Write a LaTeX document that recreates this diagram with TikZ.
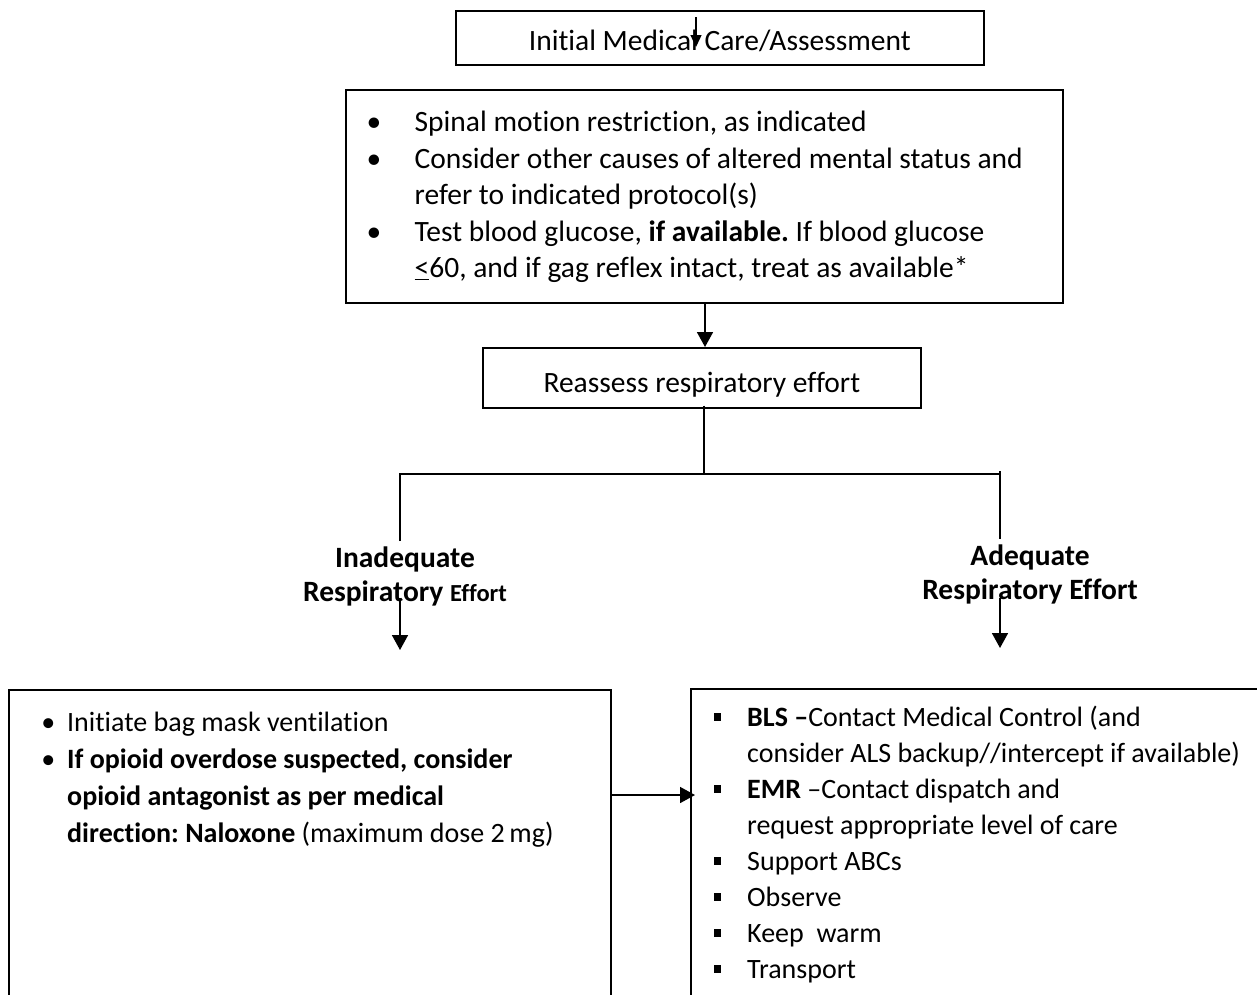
\documentclass[tikz,border=0pt]{standalone}
\usepackage{fontspec}
\setmainfont{Carlito}[Ligatures={NoCommon}]
\usetikzlibrary{arrows.meta}
\newcommand{\bl}[1]{\makebox[#1][l]{\textbullet}}
\newcommand{\sq}[1]{\makebox[#1][l]{\rule[6pt]{7.5pt}{7.5pt}}}
\newcommand{\natsp}{\spaceskip=0pt\relax\xspaceskip=0pt\relax\frenchspacing\hyphenpenalty=10000\relax}
\begin{document}
\begin{tikzpicture}[x=1pt,y=-1pt,
  box/.style={draw, line width=1.6pt, inner sep=0pt, anchor=north west},
  conn/.style={line width=1.7pt},
  arr/.style={line width=1.7pt, -{Triangle[width=16pt,length=15pt]}},
  smallarr/.style={line width=1.3pt, -{Triangle[width=11pt,length=12pt]}},
  txt/.style={inner sep=0pt, anchor=north west, align=left, font=\fontsize{29.5}{36.5}\selectfont},
  lab/.style={align=center, inner sep=5pt, font=\fontsize{29.5}{34}\selectfont\bfseries}]
\path[use as bounding box] (0,0) rectangle (1257,994);
\clip (0,0) rectangle (1257,994);

% boxes
\node[box, minimum width=528pt, minimum height=54pt, text height=25pt, text depth=0pt, font=\fontsize{29.5}{34}\selectfont] (b1) at (455,10) {Initial Medical Care/Assessment};
\node[box, minimum width=717pt, minimum height=213pt] (b2) at (345,89) {};
\node[box, minimum width=438pt, minimum height=60pt, text height=29pt, text depth=0pt, font=\fontsize{29.5}{34}\selectfont] (b3) at (482,347) {Reassess respiratory effort};
\node[box, minimum width=602pt, minimum height=400pt] (b4) at (8,689) {};
\node[box, minimum width=620pt, minimum height=400pt] (b5) at (690,688) {};

% box texts
\node[txt, text width=700pt] (t2) at (366.3,106.2) {\natsp\strut\bl{48.2pt}Spinal motion restriction, as indicated\\
\bl{48.2pt}Consider other causes of altered mental status and\\
\hspace*{48.2pt}refer to indicated protocol(s)\\
\bl{48.2pt}Test blood glucose, \textbf{if available.} If blood glucose\\
\hspace*{48.2pt}\underline{<}60, and if gag reflex intact, treat as available*};

\node[txt, text width=590pt, font=\fontsize{28}{37}\selectfont] (t4) at (41.1,705) {\natsp\strut\bl{25.9pt}Initiate bag mask ventilation\\
\bl{25.9pt}\textbf{If opioid overdose suspected, consider}\\
\hspace*{25.9pt}\textbf{opioid antagonist as per medical}\\
\hspace*{25.9pt}\textbf{direction: Naloxone} (maximum dose 2\,mg)};

\node[txt, text width=620pt, font=\fontsize{28}{36}\selectfont] (t5) at (713.5,701.5) {\natsp\strut\sq{33.5pt}\textbf{BLS --}Contact Medical Control (and\\
\hspace*{33.5pt}consider ALS backup//intercept if available)\\
\sq{33.5pt}\textbf{EMR} --Contact dispatch and\\
\hspace*{33.5pt}request appropriate level of care\\
\sq{33.5pt}Support ABCs\\
\sq{33.5pt}Observe\\
\sq{33.5pt}Keep\ \ warm\\
\sq{33.5pt}Transport};

% labels
\node[lab] (l1) at (405,576) {Inadequate\\Respiratory {\fontsize{24.5}{34}\selectfont Effort}};
\node[lab] (l2) at (1030,574) {Adequate\\Respiratory Effort};

% connectors
\coordinate (a0s) at (696,17);
\coordinate (a0e) at (696,47);
\draw[smallarr] (a0s) -- (a0e);

\draw[arr] (b2.south -| 705,0) -- (b3.north -| 705,0);

\coordinate (j) at (704,474);
\coordinate (jl) at (400,474);
\coordinate (jr) at (1000,474);
\draw[conn] ([yshift=3pt]b3.south -| j) -- (j);
\draw[conn] (jl |- l1.north) -- (jl) -- (jr) -- (jr |- l2.north);
\draw[conn] (1000,471) -- (jr);

\coordinate (s1) at (400,598);
\coordinate (e1) at (400,650);
\coordinate (s2) at (1000,598);
\coordinate (e2) at (1000,648);
\draw[arr] (s1) -- (e1);
\draw[arr] (s2) -- (e2);

\draw[arr] (b4.north east |- 0,795) -- ([xshift=5pt]b5.north west |- 0,795);
\end{tikzpicture}
\end{document}
